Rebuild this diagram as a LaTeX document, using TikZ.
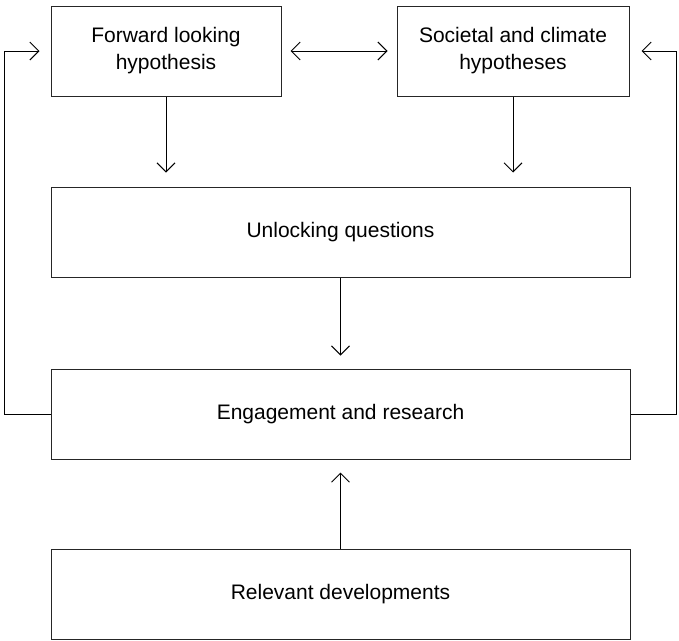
\documentclass[tikz,border=0pt]{standalone}
\usepackage{fontspec}
\setmainfont{Liberation Sans}
\usepackage{tikz}
\usetikzlibrary{arrows.meta}
\tikzset{
 fl box/.style={draw=black!85,line width=1pt,minimum height=90pt,inner sep=0pt,
                align=center,font=\fontsize{21}{27}\selectfont},
 fl arrow/.style={line width=1pt,-{Straight Barb[length=9pt,width=18pt,line width=1pt]}},
 fl both/.style={line width=1pt,{Straight Barb[length=9pt,width=18pt,line width=1pt]}-{Straight Barb[length=9pt,width=18pt,line width=1pt]}}
}
\begin{document}
\begin{tikzpicture}[x=1pt,y=-1pt]
 \useasboundingbox (0,0) rectangle (679,640);
 % hypotheses
 \node[fl box,minimum width=230pt] (fwd) at (166,51) {Forward looking\\hypothesis};
 \node[fl box,minimum width=232pt] (soc) at (513,51) {Societal and climate\\hypotheses};
 % main column
 \node[fl box,minimum width=579pt] (unl) at (340.5,232) {Unlocking questions};
 \node[fl box,minimum width=579pt] (eng) at (340.5,414) {Engagement and research};
 \node[fl box,minimum width=579pt] (rel) at (340.5,594.5) {Relevant developments};
 \coordinate (lloop) at (4,414);
 \coordinate (rloop) at (676.5,414);
 \draw[fl both,shorten <=9pt,shorten >=9pt] (fwd.east) -- (soc.west);
 \draw[fl arrow,shorten >=14pt] (fwd.south) -- (fwd.south |- unl.north);
 \draw[fl arrow,shorten >=14pt] (soc.south) -- (soc.south |- unl.north);
 \draw[fl arrow,shorten >=13pt] (unl.south) -- (eng.north);
 \draw[fl arrow,shorten >=13pt] (rel.north) -- (eng.south);
 \draw[fl arrow,shorten >=11pt] (eng.west) -- (lloop) |- (fwd.west);
 \draw[fl arrow,shorten >=12pt] (eng.east) -- (rloop) |- (soc.east);
\end{tikzpicture}
\end{document}
